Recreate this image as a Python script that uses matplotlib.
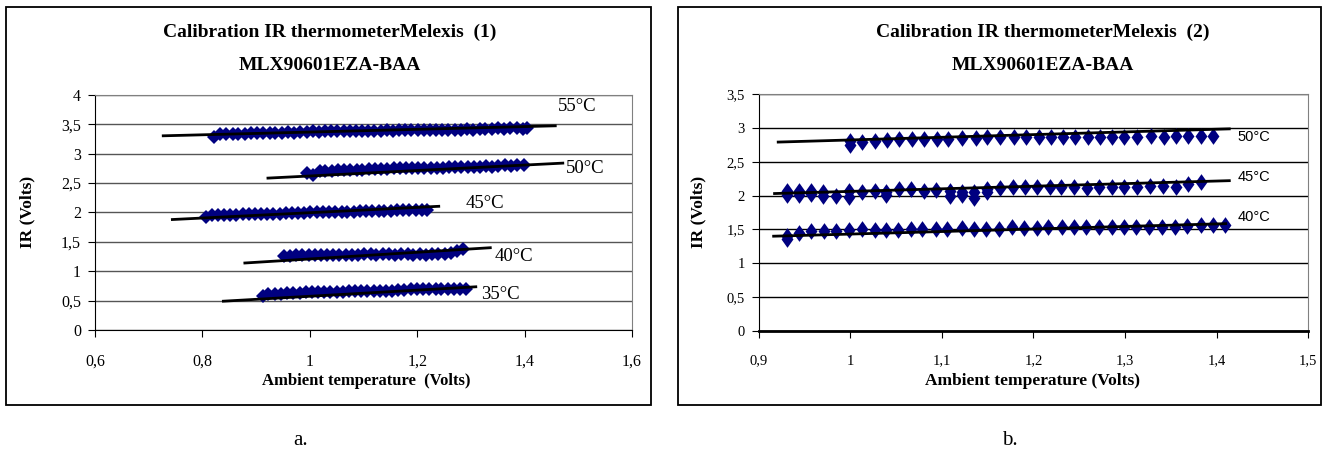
import numpy as np
import matplotlib
matplotlib.use('Agg')
import matplotlib.pyplot as plt
from matplotlib.patches import Rectangle
from matplotlib.ticker import FuncFormatter, MultipleLocator

plt.rcParams['font.family'] = ['Liberation Serif', 'DejaVu Serif']

# ---- panel a: five temperatures ----
a55_x = [0.821, 0.833, 0.844, 0.856, 0.867, 0.879, 0.890, 0.902, 0.913, 0.925,
         0.936, 0.948, 0.959, 0.971, 0.982, 0.994, 1.005, 1.017, 1.028, 1.040,
         1.051, 1.063, 1.074, 1.086, 1.097, 1.109, 1.120, 1.132, 1.143, 1.155,
         1.166, 1.178, 1.189, 1.201, 1.212, 1.224, 1.235, 1.247, 1.258, 1.270,
         1.281, 1.293, 1.304, 1.316, 1.327, 1.339, 1.350, 1.362, 1.373, 1.385,
         1.396, 1.404]
a55_y = [3.29, 3.33, 3.33, 3.34, 3.34, 3.34, 3.35, 3.35, 3.36, 3.36,
         3.36, 3.36, 3.37, 3.36, 3.37, 3.37, 3.38, 3.37, 3.38, 3.38,
         3.38, 3.38, 3.39, 3.38, 3.39, 3.39, 3.39, 3.39, 3.40, 3.39,
         3.40, 3.40, 3.40, 3.40, 3.40, 3.41, 3.40, 3.41, 3.41, 3.41,
         3.41, 3.42, 3.41, 3.42, 3.42, 3.42, 3.43, 3.42, 3.43, 3.43,
         3.42, 3.43]
a50_x = [0.995, 1.006, 1.018, 1.029, 1.041, 1.052, 1.064, 1.075, 1.087, 1.098,
         1.110, 1.121, 1.133, 1.144, 1.156, 1.167, 1.179, 1.190, 1.202, 1.213,
         1.225, 1.236, 1.248, 1.259, 1.271, 1.282, 1.294, 1.305, 1.317, 1.328,
         1.340, 1.351, 1.363, 1.374, 1.386, 1.398]
a50_y = [2.68, 2.64, 2.70, 2.71, 2.71, 2.72, 2.72, 2.73, 2.73, 2.73,
         2.74, 2.74, 2.74, 2.74, 2.75, 2.75, 2.75, 2.75, 2.76, 2.75,
         2.76, 2.76, 2.76, 2.77, 2.77, 2.77, 2.78, 2.78, 2.78, 2.79,
         2.78, 2.79, 2.80, 2.79, 2.80, 2.81]
a45_x = [0.806, 0.817, 0.829, 0.840, 0.852, 0.863, 0.875, 0.886, 0.898, 0.909,
         0.921, 0.932, 0.944, 0.955, 0.967, 0.978, 0.990, 1.001, 1.013, 1.024,
         1.036, 1.047, 1.059, 1.070, 1.082, 1.093, 1.105, 1.116, 1.128, 1.139,
         1.151, 1.162, 1.174, 1.185, 1.197, 1.208, 1.219]
a45_y = [1.93, 1.95, 1.95, 1.96, 1.96, 1.96, 1.97, 1.97, 1.98, 1.98,
         1.98, 1.98, 1.98, 1.99, 1.99, 1.99, 1.99, 2.00, 2.00, 2.00,
         2.00, 2.01, 2.01, 2.01, 2.01, 2.02, 2.02, 2.02, 2.03, 2.03,
         2.03, 2.04, 2.04, 2.04, 2.04, 2.05, 2.04]
a40_x = [0.952, 0.963, 0.975, 0.986, 0.998, 1.009, 1.021, 1.032, 1.044, 1.055,
         1.067, 1.078, 1.090, 1.101, 1.113, 1.124, 1.136, 1.147, 1.159, 1.170,
         1.182, 1.193, 1.205, 1.216, 1.228, 1.239, 1.251, 1.262, 1.274, 1.285]
a40_y = [1.26, 1.26, 1.27, 1.27, 1.27, 1.28, 1.27, 1.28, 1.28, 1.28,
         1.28, 1.28, 1.28, 1.29, 1.29, 1.28, 1.29, 1.29, 1.28, 1.29,
         1.29, 1.28, 1.29, 1.27, 1.29, 1.29, 1.30, 1.31, 1.34, 1.37]
a35_x = [0.912, 0.923, 0.935, 0.946, 0.958, 0.969, 0.981, 0.992, 1.004, 1.015,
         1.027, 1.038, 1.050, 1.061, 1.073, 1.084, 1.096, 1.107, 1.119, 1.130,
         1.142, 1.153, 1.165, 1.176, 1.188, 1.199, 1.211, 1.222, 1.234, 1.245,
         1.257, 1.268, 1.280, 1.291]
a35_y = [0.58, 0.61, 0.62, 0.62, 0.63, 0.63, 0.63, 0.64, 0.64, 0.64,
         0.65, 0.65, 0.65, 0.65, 0.66, 0.66, 0.66, 0.66, 0.67, 0.67,
         0.67, 0.67, 0.68, 0.68, 0.69, 0.69, 0.69, 0.69, 0.69, 0.70,
         0.70, 0.70, 0.70, 0.70]

# trend lines (end points)
a_trend_x = [[0.727, 1.457], [0.922, 1.471], [0.744, 1.240], [0.879, 1.336], [0.839, 1.309]]
a_trend_y = [[3.305, 3.475], [2.585, 2.840], [1.880, 2.105], [1.140, 1.400], [0.490, 0.735]]
a_labels = ['55°C', '50°C', '45°C', '40°C', '35°C']
a_label_x = [1.462, 1.476, 1.290, 1.345, 1.318]
a_label_y = [3.80, 2.74, 2.15, 1.245, 0.605]

# ---- panel b: three temperatures ----
b50_x = [0.9998, 1.0126, 1.0264, 1.0402, 1.0531, 1.0669, 1.0798, 1.0940, 1.1069, 1.1216,
         1.1368, 1.1497, 1.1639, 1.1782, 1.1915, 1.2057, 1.2191, 1.2320, 1.2457, 1.2595,
         1.2724, 1.2862, 1.2991, 1.3129, 1.3280, 1.3428, 1.3556, 1.3690, 1.3828, 1.3966,
         0.9998]
b50_y = [2.81, 2.79, 2.80, 2.82, 2.83, 2.83, 2.83, 2.83, 2.84, 2.85,
         2.85, 2.86, 2.86, 2.86, 2.87, 2.86, 2.86, 2.86, 2.86, 2.87,
         2.87, 2.86, 2.86, 2.87, 2.88, 2.87, 2.88, 2.88, 2.88, 2.88,
         2.74]
b45_x = [0.9303, 0.9441, 0.9570, 0.9699, 0.9846, 0.9989, 1.0126, 1.0264, 1.0393, 1.0531,
         1.0660, 1.0798, 1.0931, 1.1087, 1.1221, 1.1345, 1.1497, 1.1634, 1.1772, 1.1910,
         1.2039, 1.2177, 1.2301, 1.2448, 1.2586, 1.2715, 1.2853, 1.2991, 1.3129, 1.3276,
         1.3414, 1.3556, 1.3690, 1.3828,
         0.9303, 0.9441, 0.9570, 0.9699, 0.9989, 1.0393, 1.1087, 1.1221, 1.1345, 1.1497]
b45_y = [2.07, 2.07, 2.07, 2.06, 2.00, 2.07, 2.06, 2.07, 2.06, 2.09,
         2.09, 2.07, 2.08, 2.07, 2.06, 2.05, 2.10, 2.11, 2.12, 2.12,
         2.12, 2.12, 2.12, 2.12, 2.11, 2.12, 2.12, 2.13, 2.12, 2.14,
         2.14, 2.12, 2.17, 2.20,
         2.01, 2.01, 2.02, 1.99, 1.98, 2.01, 2.00, 2.01, 1.97, 2.06]
b40_x = [0.9303, 0.9432, 0.9570, 0.9708, 0.9837, 0.9984, 1.0126, 1.0264, 1.0384, 1.0517,
         1.0660, 1.0784, 1.0931, 1.1060, 1.1216, 1.1345, 1.1483, 1.1625, 1.1763, 1.1901,
         1.2034, 1.2163, 1.2310, 1.2448, 1.2577, 1.2715, 1.2853, 1.2991, 1.3120, 1.3258,
         1.3405, 1.3543, 1.3681, 1.3828, 1.3957, 1.4094,
         0.9303]
b40_y = [1.40, 1.44, 1.47, 1.48, 1.48, 1.49, 1.50, 1.49, 1.49, 1.49,
         1.50, 1.50, 1.50, 1.51, 1.52, 1.51, 1.51, 1.51, 1.53, 1.52,
         1.52, 1.53, 1.53, 1.54, 1.54, 1.54, 1.53, 1.53, 1.53, 1.54,
         1.54, 1.54, 1.55, 1.56, 1.56, 1.56,
         1.36]

b_trend_x = [[0.921, 1.414], [0.917, 1.414], [0.916, 1.410]]
b_trend_y = [[2.790, 2.985], [2.030, 2.220], [1.400, 1.585]]
b_labels = ['50°C', '45°C', '40°C']
b_label_x = [1.423, 1.423, 1.423]
b_label_y = [2.87, 2.27, 1.69]

navy = '#000080'
comma = FuncFormatter(lambda v, p: ('%g' % round(v, 3)).replace('.', ','))

fig = plt.figure(figsize=(13.29, 4.61), dpi=100)

# outer frames
for x0, w in [(0.0045, 0.4853), (0.5102, 0.4838)]:
    fig.patches.append(Rectangle((x0, 0.1215), w, 0.8633, transform=fig.transFigure,
                                 fill=False, edgecolor='black', linewidth=1.3))


def style_axes(ax, xlim, xstep, ylim, ystep, gridcol, tsize):
    ax.set_xlim(*xlim)
    ax.set_ylim(*ylim)
    ax.xaxis.set_major_locator(MultipleLocator(xstep))
    ax.yaxis.set_major_locator(MultipleLocator(ystep))
    ax.xaxis.set_major_formatter(comma)
    ax.yaxis.set_major_formatter(comma)
    ax.grid(axis='y', color=gridcol, linewidth=1.0)
    ax.set_axisbelow(True)
    ax.tick_params(axis='both', direction='out', length=5, width=0.8, labelsize=tsize,
                   colors='black')
    ax.tick_params(axis='x', pad=12)
    ax.tick_params(axis='y', pad=5)
    ax.spines['left'].set_color('black')
    ax.spines['bottom'].set_color('black')
    ax.spines['top'].set_color('#808080')
    ax.spines['right'].set_color('#808080')


# ---- left chart ----
ax1 = fig.add_axes([0.0715, 0.2842, 0.4041, 0.5098])
style_axes(ax1, (0.6, 1.6), 0.2, (0, 4), 0.5, '#555555', 11.5)
for xs, ys in [(a55_x, a55_y), (a50_x, a50_y), (a45_x, a45_y), (a40_x, a40_y), (a35_x, a35_y)]:
    ax1.plot(xs, ys, linestyle='none', marker='D', markersize=7, color=navy,
             markeredgewidth=0)
for tx, ty in zip(a_trend_x, a_trend_y):
    ax1.plot(tx, ty, color='black', linewidth=2)
for lab, lx, ly in zip(a_labels, a_label_x, a_label_y):
    ax1.text(lx, ly, lab, fontsize=13.5, va='center', ha='left', clip_on=False)

# ---- right chart ----
tall_diamond = [(0, 1.4), (1, 0), (0, -1.4), (-1, 0), (0, 1.4)]
ax2 = fig.add_axes([0.5711, 0.2820, 0.4131, 0.5141])
style_axes(ax2, (0.9, 1.5), 0.1, (0, 3.5), 0.5, 'black', 10.5)
ax2.spines['bottom'].set_linewidth(2)
for xs, ys in [(b50_x, b50_y), (b45_x, b45_y), (b40_x, b40_y)]:
    ax2.plot(xs, ys, linestyle='none', marker=tall_diamond, markersize=12, color=navy,
             markeredgewidth=0)
for tx, ty in zip(b_trend_x, b_trend_y):
    ax2.plot(tx, ty, color='black', linewidth=2)
for lab, lx, ly in zip(b_labels, b_label_x, b_label_y):
    ax2.text(lx, ly, lab, fontsize=10.5, va='center', ha='left',
             family=['Liberation Sans', 'DejaVu Sans'], clip_on=False)

# titles and axis labels
for cx, num in [(0.2483, '(1)'), (0.7848, '(2)')]:
    fig.text(cx, 0.9306, 'Calibration IR thermometerMelexis  ' + num, ha='center',
             va='center', fontsize=14, fontweight='bold')
    fig.text(cx, 0.859, 'MLX90601EZA-BAA', ha='center', va='center', fontsize=14,
             fontweight='bold')

fig.text(0.0207, 0.54, 'IR (Volts)', rotation=90, ha='center', va='center',
         fontsize=12.5, fontweight='bold')
fig.text(0.5252, 0.54, 'IR (Volts)', rotation=90, ha='center', va='center',
         fontsize=12.5, fontweight='bold')
fig.text(0.2754, 0.1735, 'Ambient temperature  (Volts)', ha='center', va='center',
         fontsize=12, fontweight='bold')
fig.text(0.7772, 0.1735, 'Ambient temperature (Volts)', ha='center', va='center',
         fontsize=12.5, fontweight='bold')

fig.text(0.2260, 0.045, 'a.', ha='center', va='center', fontsize=15)
fig.text(0.7600, 0.045, 'b.', ha='center', va='center', fontsize=15)

fig.savefig('out.png', dpi=100)
